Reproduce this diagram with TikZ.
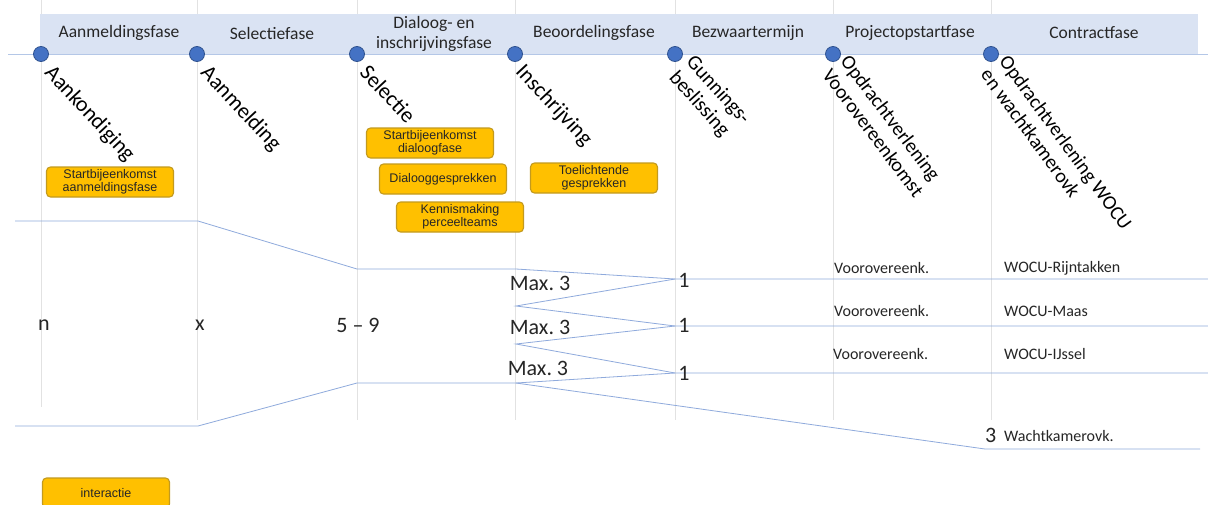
\documentclass[tikz,border=0pt]{standalone}
\usepackage{fontspec}
\setmainfont{Carlito}
\newfontfamily\arialf{Liberation Sans}
\definecolor{bandblue}{HTML}{DAE3F3}
\definecolor{bandline}{HTML}{B4C7E7}
\definecolor{dotblue}{HTML}{4472C4}
\definecolor{dotedge}{HTML}{2F528F}
\definecolor{flow}{HTML}{8FAADC}
\definecolor{grid}{HTML}{E2E2E2}
\definecolor{orng}{HTML}{FFC000}
\definecolor{oedge}{HTML}{C39A1E}
\definecolor{txt}{HTML}{262626}
\frenchspacing
\begin{document}
\begin{tikzpicture}[x=1pt,y=-1pt,
  phase/.style={font=\fontsize{17.5}{21}\selectfont, text=txt, align=center, inner sep=0},
  mile/.style={font=\fontsize{22}{25}\selectfont, text=black, rotate=-47, anchor=north west, align=left, inner sep=0},
  obox/.style={draw=oedge, fill=orng, rounded corners=4, line width=1.1, minimum width=127, minimum height=30, inner sep=0, align=center, text=txt, font=\arialf\fontsize{12.5}{12.5}\selectfont},
  dot/.style={circle, fill=dotblue, draw=dotedge, line width=0.8, minimum size=15, inner sep=0},
  gridline/.style={draw=grid, line width=0.7},
  flowline/.style={draw=flow, line width=0.8},
  num/.style={font=\fontsize{22}{24}\selectfont, text=txt, inner sep=0},
  small/.style={font=\fontsize{16}{18}\selectfont, text=txt, inner sep=0, anchor=west}
]
\useasboundingbox (0,0) rectangle (1208,504);
\clip (0,0) rectangle (1208,504);
\fill[white] (0,0) rectangle (1208,504);

% grid lines
\foreach \x/\b in {41/407,197/420,357/420,515/420,675/420,833/420,991/420}
  \draw[gridline] (\x,0) -- (\x,\b);

% header band
\fill[bandblue] (40,14) rectangle (1198,54);
\draw[bandline, line width=0.8] (8,54) -- (1208,54);

% phases
\node[phase] (p1) at (119,33) {Aanmeldingsfase};
\node[phase] (p2) at (272,33) {Selectiefase};
\node[phase, font=\fontsize{17.5}{20}\selectfont] (p3) at (434,34) {Dialoog- en\\inschrijvingsfase};
\node[phase] (p4) at (594,33) {Beoordelingsfase};
\node[phase] (p5) at (748,33) {Bezwaartermijn};
\node[phase] (p6) at (910,33) {Projectopstartfase};
\node[phase] (p7) at (1094,33) {Contractfase};

% milestone dots
\node[dot] (d1) at (41,54) {};
\node[dot] (d2) at (197,54) {};
\node[dot] (d3) at (357,54) {};
\node[dot] (d4) at (515,54) {};
\node[dot] (d5) at (675,54) {};
\node[dot] (d6) at (833,54) {};
\node[dot] (d7) at (991,54) {};

% milestone labels
\node[mile] (m1) at (55,63) {Aankondiging};
\node[mile] (m2) at (211,63) {Aanmelding};
\node[mile] (m3) at (370,63) {Selectie};
\node[mile] (m4) at (526,62) {Inschrijving};
\node[mile, rotate=-1, font=\fontsize{20.5}{23}\selectfont] (m5) at (696,53) {Gunnings-\\beslissing};
\node[mile, rotate=-6, font=\fontsize{20}{23}\selectfont] (m6) at (851,53) {Opdrachtverlening\\Voorovereenkomst};
\node[mile, rotate=-7, font=\fontsize{20}{23}\selectfont] (m7) at (1010,53) {Opdrachtverlening WOCU\\en wachtkamerovk};

% orange boxes
\node[obox] (b1) at (110,182) {Startbijeenkomst\\aanmeldingsfase};
\node[obox] (b2) at (430,143) {Startbijeenkomst\\dialoogfase};
\node[obox] (b3) at (443,179) {Dialooggesprekken};
\node[obox] (b4) at (460,217) {Kennismaking\\perceelteams};
\node[obox] (b5) at (594,178) {Toelichtende\\gesprekken};
\node[obox] (b6) at (106,493) {interactie};

% flow coordinates
\coordinate (L0) at (15,221);
\coordinate (L1) at (198,221);
\coordinate (L2) at (357,269);
\coordinate (A) at (516,269);
\coordinate (M0) at (15,426);
\coordinate (M1) at (198,426);
\coordinate (M2) at (357,383);
\coordinate (D) at (516,383);
\coordinate (B) at (516,306);
\coordinate (C) at (516,344);
\coordinate (P1) at (675,279);
\coordinate (P2) at (675,326);
\coordinate (P3) at (675,373);
\coordinate (W) at (985,449);
\coordinate (E1) at (1208,279);
\coordinate (E2) at (1208,326);
\coordinate (E3) at (1208,373);
\coordinate (E4) at (1200,449);

\draw[flowline] (L0) -- (L1) -- (L2) -- (A) -- (P1) -- (E1);
\draw[flowline] (M0) -- (M1) -- (M2) -- (D) -- (P3) -- (E3);
\draw[flowline] (P1) -- (B) -- (P2) -- (E2);
\draw[flowline] (P2) -- (C) -- (P3);
\draw[flowline] (D) -- (W) -- (E4);

% numbers
\node[num] (n1) at (44,325) {n};
\node[num] (n2) at (200,325) {x};
\node[num] (n3) at (358,325) {5 – 9};
\node[num] (mx1) at (540,283) {Max. 3};
\node[num] (mx2) at (540,327) {Max. 3};
\node[num] (mx3) at (538,368) {Max. 3};
\node[num] (o1) at (684,280) {1};
\node[num] (o2) at (684,325) {1};
\node[num] (o3) at (684,373) {1};

\node[small] (v1) at (834,268) {Voorovereenk.};
\node[small] (v2) at (834,311) {Voorovereenk.};
\node[small] (v3) at (833,354) {Voorovereenk.};
\node[small] (w1) at (1004,268) {WOCU-Rijntakken};
\node[small] (w2) at (1004,311) {WOCU-Maas};
\node[small] (w3) at (1004,354) {WOCU-IJssel};
\node[num, anchor=west] (w4n) at (985,435) {3};
\node[small] (w4) at (1004,436) {Wachtkamerovk.};
\end{tikzpicture}
\end{document}
